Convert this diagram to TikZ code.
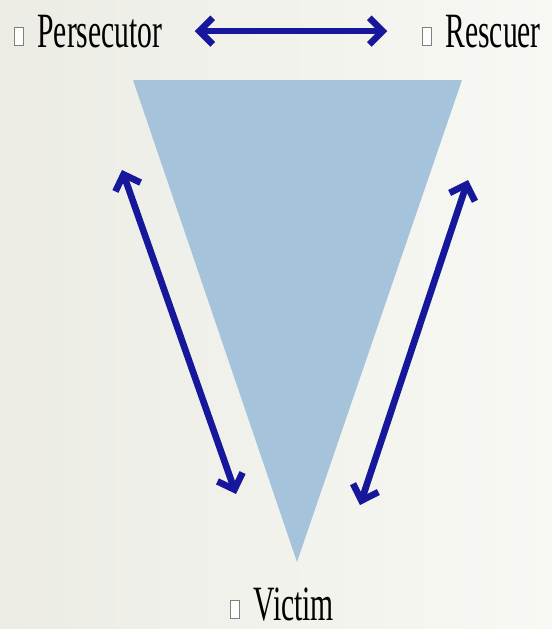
\documentclass[tikz,border=0pt]{standalone}
\usepackage{fontspec}
\usepackage{xcolor}
\usetikzlibrary{arrows.meta,positioning}
\newfontfamily\rolefont[FakeStretch=0.6]{Liberation Serif}
\definecolor{paper}{HTML}{ECECE5}
\definecolor{paperlight}{HTML}{F8F8F4}
\definecolor{tri}{HTML}{A6C3DC}
\definecolor{navy}{HTML}{17179B}
\newcommand{\rolebox}{\raisebox{1.5pt}{\setlength{\fboxsep}{0pt}\setlength{\fboxrule}{0.7pt}%
  \fcolorbox{gray}{white!90!paper}{\rule{0pt}{12.5pt}\rule{6pt}{0pt}}}\hspace{10pt}}

\begin{document}
\begin{tikzpicture}[x=0.75pt,y=-0.75pt,
    role/.style={inner sep=0pt,anchor=base west,
                 font=\rolefont\fontsize{37}{40}\selectfont},
    arr/.style={{Straight Barb[length=10pt,width=20pt]}-{Straight Barb[length=10pt,width=20pt]},
                line width=5pt,color=navy}
  ]
    % background
    \shade[left color=paper,right color=paperlight] (0,0) rectangle (552,629);
    \useasboundingbox (0,0) rectangle (552,629);
    % triangle
    \fill[tri] (133,80) -- (462,80) -- (297,562) -- cycle;
    % roles
    \node[role] (pers) at (14,47) {\rolebox Persecutor};
    \node[role] (resc) at (422,47) {\rolebox Rescuer};
    \node[role] (vict) at (230,620) {\rolebox Victim};
    % arrow ends
    \coordinate (lt) at (122,170);
    \coordinate (lb) at (236,494);
    \coordinate (rt) at (468,180);
    \coordinate (rb) at (360,505);
    \draw[arr,shorten <=24pt,shorten >=26pt] (pers.east) -- (resc.west |- pers.east);
    \draw[arr] (lt) -- (lb);
    \draw[arr] (rt) -- (rb);
  \end{tikzpicture}
\end{document}
